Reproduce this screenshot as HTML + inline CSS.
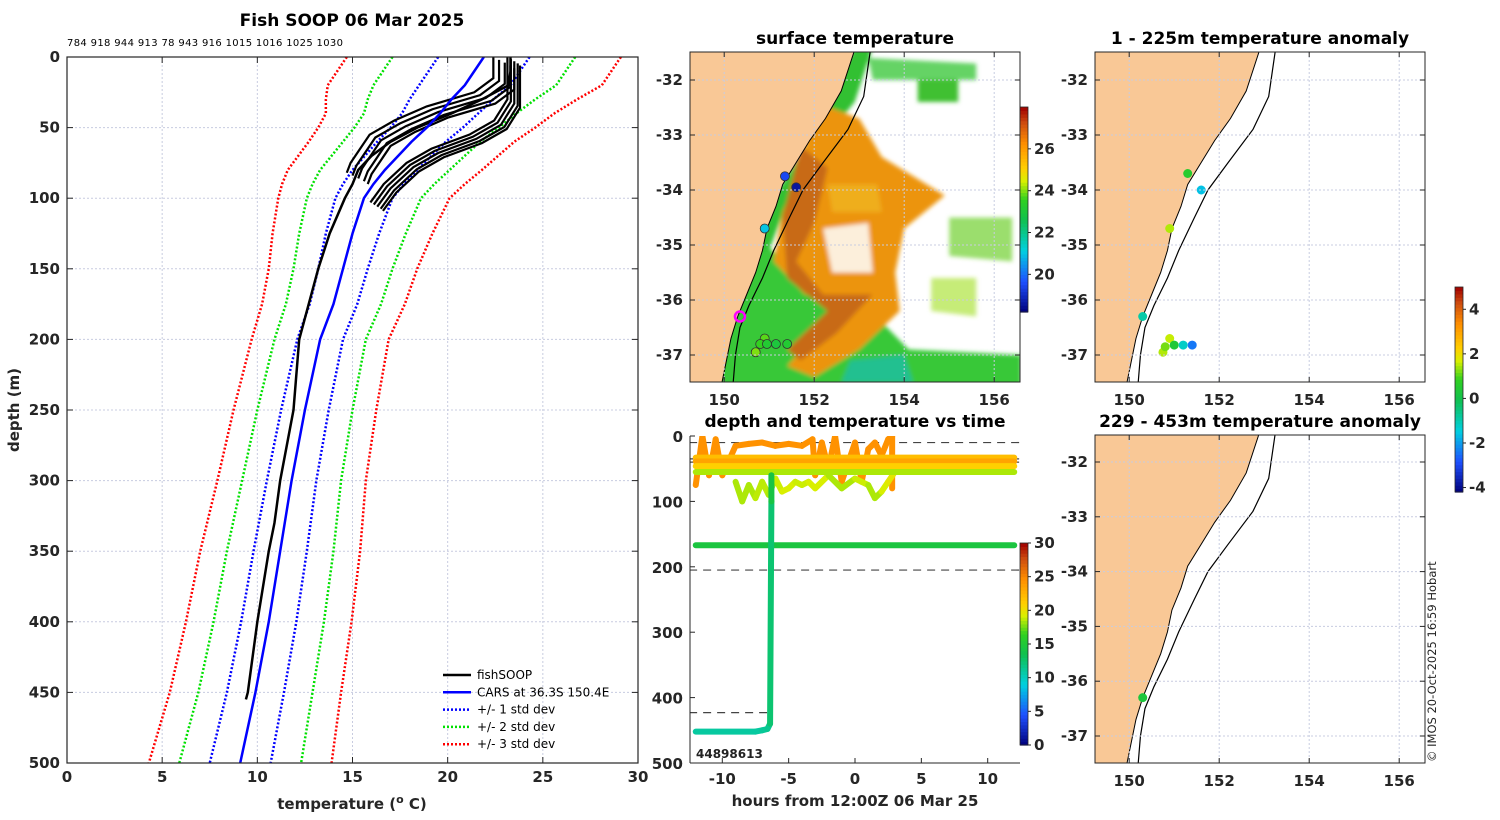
<!DOCTYPE html>
<html><head><meta charset="utf-8"><style>
html,body{margin:0;padding:0;background:#fff;}
svg{display:block;font-family:"DejaVu Sans","Liberation Sans",sans-serif;}
.tk{font-size:15px;font-weight:bold;fill:#262626;}
.tt{font-size:17px;font-weight:bold;fill:#000;}
</style></head><body>
<svg id="fig" width="1500" height="820" viewBox="0 0 1500 820" xmlns="http://www.w3.org/2000/svg">
<defs>
<clipPath id="c1"><rect x="67" y="57" width="571" height="706"/></clipPath>
<clipPath id="cm"><rect x="690" y="52" width="330" height="330"/></clipPath>
<clipPath id="ca1"><rect x="1095" y="52" width="330" height="330"/></clipPath>
<clipPath id="ca2"><rect x="1095" y="435" width="330" height="328"/></clipPath>
<clipPath id="ct"><rect x="690" y="436" width="330" height="327"/></clipPath>
<filter id="bl"><feGaussianBlur stdDeviation="2"/></filter>
</defs>
<g id="root"></g>
<text class="tt" x="352" y="26" text-anchor="middle">Fish SOOP 06 Mar 2025</text>
<text x="67" y="46" font-size="10" fill="#000" textLength="276">784 918 944 913 78 943 916 1015 1016 1025 1030</text>
<text class="tk" x="352" y="809" text-anchor="middle" font-size="16">temperature (<tspan font-size="11" dy="-6">o</tspan><tspan dy="6"> C)</tspan></text>
<text class="tk" transform="translate(19,410) rotate(-90)" text-anchor="middle" font-size="16">depth (m)</text>
<text class="tt" x="855" y="44" text-anchor="middle">surface temperature</text>
<text class="tt" x="1260" y="44" text-anchor="middle">1 - 225m temperature anomaly</text>
<text class="tt" x="1260" y="427" text-anchor="middle">229 - 453m temperature anomaly</text>
<text class="tt" x="855" y="427" text-anchor="middle">depth and temperature vs time</text>
<text class="tk" x="855" y="806" text-anchor="middle" font-size="16">hours from 12:00Z 06 Mar 25</text>
<text x="696" y="758" font-size="12" font-weight="bold" fill="#222">44898613</text>
<text transform="translate(1436,762) rotate(-90)" font-size="11.5" fill="#222">© IMOS 20-Oct-2025 16:59 Hobart</text>
</svg>
<script>
// ---------- profile data ----------
const depths=[0,10,20,30,40,50,60,70,80,90,100,125,150,175,200,250,300,350,400,450,500];
const carsTemp=[21.9,21.4,20.9,20.2,19.6,18.9,18.1,17.4,16.7,16.1,15.6,15.0,14.5,14.0,13.3,12.5,11.8,11.2,10.6,9.9,9.1];
const carsStd=[2.4,2.4,2.4,2.2,2.0,1.9,1.8,1.75,1.7,1.6,1.5,1.4,1.3,1.25,1.2,1.25,1.3,1.4,1.45,1.5,1.6];
const deepDepth=[0,10,20,30,40,50,60,70,80,90,100,125,150,175,200,250,300,330,350,400,450,455];
const deepTemp=[23.3,23.3,23.2,21.8,20.2,18.4,17.0,16.0,15.3,15.0,14.6,13.8,13.2,12.7,12.2,11.9,11.2,10.9,10.6,10.0,9.5,9.4];
const shallowA=[[0,23.0],[15,23.0],[25,22.0],[35,19.5],[45,17.8],[55,16.5],[65,16.0],[75,15.5],[82,15.3]];
const shallowB=[[0,23.5],[30,23.5],[45,22.8],[55,21.5],[65,19.5],[75,18.2],[90,17.0],[103,16.3]];
// ---------- depth-time data ----------
const dtFlatDepth=[33,39,46,55,167];
const dtFlatTemp=[22,23.5,21,18.5,14.5];
const dtDropHour=[-12,-7.5,-7,-6.6,-6.4,-6.3,-6.3];
const dtDropDepth=[452,452,450,448,440,100,60];
const dtDropTemp=[11,11,11,11.5,11.5,13.5,15];
const dtTopHour=[-12,-11.5,-11,-10.5,-10,-9,-8,-7,-6,-5,-4,-3.2,-3,-2.5,-2,-1.5,-1,0,0.5,1,1.5,2,2.5,2.8,2.8];
const dtTopDepth=[75,0,60,5,60,15,12,10,15,12,15,5,60,10,50,0,70,10,70,20,10,30,5,0,80];
const dtMidHour=[-9,-8.5,-8,-7.5,-7,-6.5,-6,-5.5,-5,-4.5,-4,-3.5,-3,-2,-1,0,1,1.5,2,2.5,3];
const dtMidDepth=[70,100,75,95,70,90,65,85,80,70,75,70,80,60,80,65,75,95,85,70,55];
const dtMidTemp=[19,18,19,18,19.5,18,19,19,19.5,19,19,19,19.5,19,18,19,19,18,19,19.5,20];
// ---------- map data ----------
const sstLon=[151.35,151.6,150.9,150.9,150.8,150.95,151.15,151.4,150.7];
const sstLat=[-33.75,-33.95,-34.7,-36.7,-36.8,-36.8,-36.8,-36.8,-36.95];
const sstVal=[19.5,18.6,21.0,23.8,23.6,23.2,23.0,23.2,24.0];
const an1Lon=[151.3,151.6,150.9,150.3,150.9,151.0,151.2,151.4,150.75,150.8];
const an1Lat=[-33.7,-34.0,-34.7,-36.3,-36.7,-36.82,-36.82,-36.82,-36.95,-36.85];
const an1Val=[0.6,-1.6,1.5,-0.9,1.6,0.4,-1.2,-2.4,1.5,1.2];
const an2Lon=[150.3];const an2Lat=[-36.3];const an2Val=[0.3];
const coastLon=[152.9,152.6,152.25,151.9,151.6,151.3,151.15,150.95,150.85,150.7,150.5,150.3,150.15,150.05,149.95];
const coastLat=[-31.45,-32.2,-32.7,-33.1,-33.5,-33.9,-34.3,-34.7,-35.1,-35.5,-35.9,-36.3,-36.7,-37.1,-37.5];
const shelfLon=[153.25,153.1,152.75,152.2,151.75,151.45,151.1,150.85,150.55,150.35,150.25,150.2];
const shelfLat=[-31.45,-32.3,-32.9,-33.5,-34.0,-34.5,-35.1,-35.6,-36.1,-36.5,-37.0,-37.5];

const NS='http://www.w3.org/2000/svg';
const root=document.getElementById('root');
function mk(tag,attrs,parent){const e=document.createElementNS(NS,tag);for(const k in attrs)e.setAttribute(k,attrs[k]);(parent||root).appendChild(e);return e;}
function cmap(t){const s=[[0,[0,0,122]],[0.15,[30,80,255]],[0.3,[0,208,224]],[0.45,[16,192,80]],[0.55,[48,208,32]],[0.64,[216,240,0]],[0.7,[255,208,0]],[0.82,[255,144,0]],[0.92,[208,80,16]],[1,[160,0,0]]];
 t=Math.max(0,Math.min(1,t));for(let i=1;i<s.length;i++){if(t<=s[i][0]){const f=(t-s[i-1][0])/(s[i][0]-s[i-1][0]);const a=s[i-1][1],b=s[i][1];return 'rgb('+a.map((v,j)=>Math.round(v+(b[j]-v)*f)).join(',')+')';}}return 'rgb(160,0,0)';}

// ---------- profile panel ----------
const px=t=>67+t*571/30, py=d=>57+d*706/500;
const gP=mk('g',{});


for(let t=5;t<30;t+=5)mk('line',{x1:px(t),x2:px(t),y1:57,y2:763,stroke:'#c8cce0','stroke-dasharray':'2,2','stroke-width':1},gP);
for(let d=50;d<500;d+=50)mk('line',{x1:67,x2:638,y1:py(d),y2:py(d),stroke:'#c8cce0','stroke-dasharray':'2,2','stroke-width':1},gP);
const gPc=mk('g',{'clip-path':'url(#c1)'},gP);
function poly(ts,ds,st,dash,w,name){const p=mk('polyline',{points:ts.map((t,i)=>px(t)+','+py(ds[i])).join(' '),fill:'none',stroke:st,'stroke-width':w,'stroke-dasharray':dash||'none'},gPc);return p;}
[[3,'#ff0000'],[2,'#00e000'],[1,'#0000ff']].forEach(([k,c])=>{
 poly(carsTemp.map((v,i)=>v-k*carsStd[i]),depths,c,'2,2',2.5,'std-minus-'+k);
 poly(carsTemp.map((v,i)=>v+k*carsStd[i]),depths,c,'2,2',2.5,'std-plus-'+k);});
const shifts=[-0.6,-0.3,0,0.3,0.5];
shifts.forEach((s,j)=>{poly(shallowA.map(p=>p[1]+s),shallowA.map(p=>p[0]+j*2),'#000','',2.2,'fishsoop-shallow-a');
 poly(shallowB.map(p=>p[1]+s*0.6),shallowB.map(p=>p[0]+j*1.5),'#000','',2.2,'fishsoop-shallow-b');});
poly(deepTemp,deepDepth,'#000','',2.5,'fishsoop-deep-profile');
poly(carsTemp,depths,'#0000ff','',2.5,'cars-line');
mk('rect',{x:67,y:57,width:571,height:706,fill:'none',stroke:'#262626','stroke-width':1.2},gP);
for(let t=0;t<=30;t+=5){mk('line',{x1:px(t),x2:px(t),y1:763,y2:757,stroke:'#262626'},gP);mk('line',{x1:px(t),x2:px(t),y1:57,y2:63,stroke:'#262626'},gP);
 const e=mk('text',{x:px(t),y:782,'text-anchor':'middle',class:'tk'},gP);e.textContent=t;}
for(let d=0;d<=500;d+=50){mk('line',{x1:67,x2:73,y1:py(d),y2:py(d),stroke:'#262626'},gP);mk('line',{x1:632,x2:638,y1:py(d),y2:py(d),stroke:'#262626'},gP);
 const e=mk('text',{x:60,y:py(d)+5,'text-anchor':'end',class:'tk'},gP);e.textContent=d;}
// legend
const leg=[['fishSOOP','#000',''],['CARS at 36.3S 150.4E','#0000ff',''],['+/- 1 std dev','#0000ff','2,2'],['+/- 2 std dev','#00e000','2,2'],['+/- 3 std dev','#ff0000','2,2']];
leg.forEach((l,i)=>{const y=675+i*17.3;const g=mk('g',{},gP);
 mk('line',{x1:443,x2:471,y1:y,y2:y,stroke:l[1],'stroke-width':2.5,'stroke-dasharray':l[2]||'none'},g);
 const t=mk('text',{x:477,y:y+4,'font-size':12,fill:'#000'},g);t.textContent=l[0];});

// ---------- map helpers ----------
function mapPanel(x0,y0,h,lat32y,latStep,clip,name,withField){
 const mx=lon=>x0+(lon-149.24)*45, my=lat=>lat32y+(-32-lat)*latStep;
 const g=mk('g',{});
 const gc=mk('g',{'clip-path':'url(#'+clip+')'},g);
 mk('rect',{x:x0,y:y0,width:330,height:h,fill:'#fff'},gc);
 const P=a=>a.map(p=>mx(p[0])+','+my(p[1])).join(' ');
 if(withField){
  const f=mk('g',{filter:'url(#bl)'},gc);
  mk('polygon',{points:P([[149.9,-35.1],[150.8,-34.9],[151.6,-35.5],[152.5,-36.0],[153.5,-36.4],[154.1,-36.9],[156.6,-37.0],[156.6,-37.6],[149.9,-37.6]]),fill:'#38c838'},f);
  mk('polygon',{points:P([[152.9,-31.4],[153.3,-31.4],[152.9,-32.4],[152.1,-33.2],[151.5,-34.0],[151.0,-35.1],[150.7,-35.1],[151.2,-34.0],[151.8,-33.2]]),fill:'#30c030'},f);
  mk('polygon',{points:P([[153.2,-31.6],[155.6,-31.7],[155.6,-32.0],[153.3,-32.0]]),fill:'#40c840',opacity:0.8},f);
  mk('polygon',{points:P([[152.0,-32.4],[153.0,-32.7],[153.5,-33.4],[154.9,-34.1],[154.0,-34.7],[153.8,-35.5],[153.9,-36.2],[153.0,-36.9],[152.0,-37.4],[151.4,-37.2],[152.2,-36.5],[152.8,-36.0],[151.8,-35.9],[151.1,-35.3],[151.3,-34.4],[151.7,-33.6]]),fill:'#ec9410'},f);
  mk('polygon',{points:P([[151.7,-33.2],[152.3,-33.6],[152.0,-34.6],[151.6,-35.3],[152.2,-35.9],[153.3,-35.9],[152.5,-36.6],[151.7,-37.1],[151.4,-36.9],[152.3,-36.2],[151.4,-35.6],[151.3,-34.5]]),fill:'#c86a18'},f);
  mk('polygon',{points:P([[152.2,-34.7],[153.2,-34.6],[153.3,-35.5],[152.4,-35.5]]),fill:'#ffffff',opacity:0.85},f);
  mk('polygon',{points:P([[152.3,-33.9],[153.4,-33.9],[153.5,-34.4],[152.4,-34.4]]),fill:'#f0b020',opacity:0.9},f);
  mk('polygon',{points:P([[155.0,-34.5],[156.4,-34.5],[156.4,-35.3],[155.0,-35.2]]),fill:'#70d030',opacity:0.7},f);
  mk('polygon',{points:P([[154.6,-35.6],[155.6,-35.6],[155.6,-36.3],[154.6,-36.2]]),fill:'#a0e020',opacity:0.6},f);
  mk('polygon',{points:P([[152.8,-37.1],[154.0,-37.0],[154.2,-37.5],[152.6,-37.5]]),fill:'#20c090'},f);
  mk('polygon',{points:P([[154.3,-32.0],[155.2,-32.0],[155.2,-32.4],[154.3,-32.4]]),fill:'#40c030'},f);
 }
 const land=[[149,-31.4]].concat(coastLon.map((l,i)=>[l,coastLat[i]])).concat([[149,-37.6]]);
 const lp=mk('polygon',{points:P(land),fill:'#f9c896',stroke:'#000','stroke-width':1},gc);
 
 const sh=mk('polyline',{points:P(shelfLon.map((l,i)=>[l,shelfLat[i]])),fill:'none',stroke:'#000','stroke-width':1.2},gc);
 
 for(const lon of [150,152,154,156])mk('line',{x1:mx(lon),x2:mx(lon),y1:y0,y2:y0+h,stroke:'#c8cce0','stroke-dasharray':'2,2'},g);
 for(let la=-32;la>=-37;la--)mk('line',{x1:x0,x2:x0+330,y1:my(la),y2:my(la),stroke:'#c8cce0','stroke-dasharray':'2,2'},g);
 for(const lon of [150,152,154,156]){mk('line',{x1:mx(lon),x2:mx(lon),y1:y0+h,y2:y0+h-5,stroke:'#262626'},g);mk('line',{x1:mx(lon),x2:mx(lon),y1:y0,y2:y0+5,stroke:'#262626'},g);
  const t=mk('text',{x:mx(lon),y:y0+h+23,'text-anchor':'middle',class:'tk'},g);t.textContent=lon;}
 for(let la=-32;la>=-37;la--){mk('line',{x1:x0,x2:x0+5,y1:my(la),y2:my(la),stroke:'#262626'},g);mk('line',{x1:x0+325,x2:x0+330,y1:my(la),y2:my(la),stroke:'#262626'},g);
  const t=mk('text',{x:x0-7,y:my(la)+5,'text-anchor':'end',class:'tk'},g);t.textContent=la;}
 mk('rect',{x:x0,y:y0,width:330,height:h,fill:'none',stroke:'#262626'},g);
 return {g,gc,mx,my};
}
function dots(m,lons,lats,vals,vmin,vmax,name){lons.forEach((l,i)=>{const c=mk('circle',{cx:m.mx(l),cy:m.my(lats[i]),r:4.5,fill:cmap((vals[i]-vmin)/(vmax-vmin)),stroke:name==='sst-station'?'#333':'none','stroke-width':0.8},m.gc);});}
function cbar(x,y0,y1,vmin,vmax,ticks,name){const g=mk('g',{});
 const n=60;for(let i=0;i<n;i++){const hh=(y1-y0)/n;mk('rect',{x:x,y:y1-(i+1)*hh,width:8,height:hh+0.6,fill:cmap((i+0.5)/n)},g);}
 mk('rect',{x:x,y:y0,width:8,height:y1-y0,fill:'none',stroke:'#262626','stroke-width':0.8},g);
 ticks.forEach(v=>{const y=y1-(v-vmin)/(vmax-vmin)*(y1-y0);mk('line',{x1:x+8,x2:x+11,y1:y,y2:y,stroke:'#262626'},g);const t=mk('text',{x:x+14,y:y+5,class:'tk','font-size':name==='anomaly-colorbar'?12:14},g);t.textContent=v;});}

const m1=mapPanel(690,52,330,80,55,'cm','sst-map',true);
dots(m1,sstLon,sstLat,sstVal,18.2,28,'sst-station');
const ring=mk('circle',{cx:m1.mx(150.35),cy:m1.my(-36.3),r:5,fill:'none',stroke:'#ff00ff','stroke-width':2.5},m1.gc);

cbar(1020,107,312,18.2,28,[20,22,24,26],'sst-colorbar');
const a1=mapPanel(1095,52,330,80,55,'ca1','anomaly-map-1',false);
dots(a1,an1Lon,an1Lat,an1Val,-4.2,5.0,'anomaly-point');
const a2=mapPanel(1095,435,328,462,54.8,'ca2','anomaly-map-2',false);
dots(a2,an2Lon,an2Lat,an2Val,-4.2,5.0,'anomaly-point');
cbar(1455,287,492,-4.2,5.0,[-4,-2,0,2,4],'anomaly-colorbar');

// ---------- depth-time panel ----------
const hx=h=>855+h*13.27, dy=d=>436+d*327/500;
const gT=mk('g',{});
const gTc=mk('g',{'clip-path':'url(#ct)'},gT);
[[10,-12.5,12.5],[35,-12.5,12.5],[40,-12.5,12.5],[205,-12.5,12.5],[423,-12.5,-6.3]].forEach(r=>{const l=mk('line',{x1:hx(r[1]),x2:hx(r[2]),y1:dy(r[0]),y2:dy(r[0]),stroke:'#444','stroke-dasharray':'8,6','stroke-width':1.2},gTc);});
function track(hs,ds,ts,name){for(let i=1;i<hs.length;i++){const s=mk('line',{x1:hx(hs[i-1]),y1:dy(ds[i-1]),x2:hx(hs[i]),y2:dy(ds[i]),stroke:cmap(((ts[i]+ts[i-1])/2)/30),'stroke-width':6,'stroke-linecap':'round'},gTc);}}
track(dtTopHour,dtTopDepth,dtTopHour.map(()=>24.5),'sensor-track-top');
track(dtMidHour,dtMidDepth,dtMidTemp,'sensor-track-mid');
dtFlatDepth.forEach((d,i)=>track([-12,12],[d,d],[dtFlatTemp[i],dtFlatTemp[i]],'sensor-track-flat'));
track(dtDropHour,dtDropDepth,dtDropTemp,'sensor-track-deep');
mk('line',{x1:690,x2:690,y1:436,y2:763,stroke:'#262626'},gT);mk('line',{x1:690,x2:1020,y1:763,y2:763,stroke:'#262626'},gT);
for(let h=-10;h<=10;h+=5){mk('line',{x1:hx(h),x2:hx(h),y1:763,y2:758,stroke:'#262626'},gT);const t=mk('text',{x:hx(h),y:784,'text-anchor':'middle',class:'tk'},gT);t.textContent=h;}
for(let d=0;d<=500;d+=100){mk('line',{x1:690,x2:695,y1:dy(d),y2:dy(d),stroke:'#262626'},gT);const t=mk('text',{x:683,y:dy(d)+6,'text-anchor':'end',class:'tk'},gT);t.textContent=d;}
cbar(1020,543,745,0,30,[0,5,10,15,20,25,30],'temperature-colorbar');
</script>
</body></html>
